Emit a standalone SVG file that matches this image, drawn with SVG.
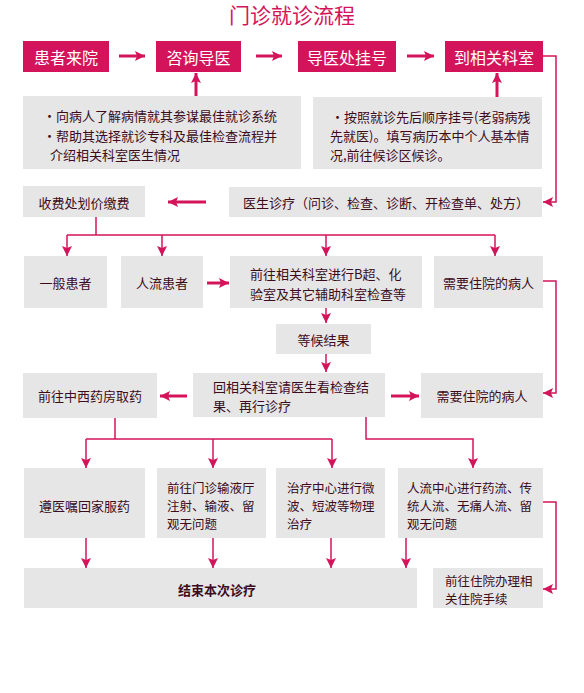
<svg xmlns="http://www.w3.org/2000/svg" width="584" height="693" viewBox="0 0 584 693">
<style>
text{font-family:"Noto Sans CJK SC","Noto Sans",sans-serif;}
.title{font-size:21px;fill:#d4145a;text-anchor:middle;}
.hb{fill:#d4145a;}
.hl{font-size:16px;fill:#fff;text-anchor:middle;dominant-baseline:central;}
.gb{fill:#e6e6e6;}
.t{font-size:13px;fill:#3d0c1c;dominant-baseline:central;}
.s{font-size:12.5px;}
.c{text-anchor:middle;}
.b{font-weight:bold;}
.ln{fill:none;stroke:#d4145a;stroke-width:1.5;}
.ar{fill:none;stroke:#d4145a;stroke-width:1.5;marker-end:url(#ah);}
.tk{fill:none;stroke:#d4145a;stroke-width:3;marker-end:url(#ahk);}
</style>
<defs>
<marker id="ah" viewBox="0 0 10 10" refX="10" refY="5" markerWidth="10" markerHeight="10" markerUnits="userSpaceOnUse" orient="auto"><path d="M0,0 L10,5 L0,10 L2,5 z" fill="#d4145a"/></marker>
<marker id="ahk" viewBox="0 0 10 10" refX="10" refY="5" markerWidth="10" markerHeight="10" markerUnits="userSpaceOnUse" orient="auto"><path d="M0,0 L10,5 L0,10 L2,5 z" fill="#d4145a"/></marker>
</defs>
<rect width="584" height="693" fill="#fff"/>
<text class="title" x="292" y="23">门诊就诊流程</text>

<g id="n1"><rect class="hb" x="23" y="41" width="86" height="31"/><text class="hl" x="66" y="56.5">患者来院</text></g>
<g id="n2"><rect class="hb" x="156" y="41" width="85" height="31"/><text class="hl" x="198.5" y="56.5">咨询导医</text></g>
<g id="n3"><rect class="hb" x="298" y="41" width="98" height="31"/><text class="hl" x="347" y="56.5">导医处挂号</text></g>
<g id="n4"><rect class="hb" x="445" y="41" width="98" height="31"/><text class="hl" x="494" y="56.5">到相关科室</text></g>

<g id="note1"><rect class="gb" x="23" y="96" width="278" height="73"/>
<text class="t" x="43" y="115">•向病人了解病情就其参谋最佳就诊系统</text>
<text class="t" x="43" y="135">•帮助其选择就诊专科及最佳检查流程并</text>
<text class="t" x="50" y="154">介绍相关科室医生情况</text></g>
<g id="note2"><rect class="gb" x="313" y="97" width="229" height="72"/>
<text class="t" x="331" y="116">•按照就诊先后顺序挂号(老弱病残</text>
<text class="t" x="330" y="135">先就医)。填写病历本中个人基本情</text>
<text class="t" x="330" y="154">况,前往候诊区候诊。</text></g>

<g id="n5"><rect class="gb" x="23" y="186" width="122" height="31"/><text class="t c" x="84" y="202">收费处划价缴费</text></g>
<g id="n6"><rect class="gb" x="229" y="187" width="313" height="30"/><text class="t" x="243" y="202">医生诊疗（问诊、检查、诊断、开检查单、处方）</text></g>

<g id="n7"><rect class="gb" x="24" y="256" width="83" height="52"/><text class="t c" x="65.5" y="282">一般患者</text></g>
<g id="n8"><rect class="gb" x="121" y="256" width="82" height="52"/><text class="t c" x="162" y="282">人流患者</text></g>
<g id="n9"><rect class="gb" x="230" y="256" width="192" height="52"/>
<text class="t" x="250" y="273">前往相关科室进行B超、化</text>
<text class="t" x="250" y="293">验室及其它辅助科室检查等</text></g>
<g id="n10"><rect class="gb" x="434" y="256" width="109" height="52"/><text class="t c" x="488.5" y="282">需要住院的病人</text></g>

<g id="n11"><rect class="gb" x="276" y="324" width="95" height="30"/><text class="t c" x="323.5" y="339">等候结果</text></g>

<g id="n12"><rect class="gb" x="23" y="373" width="134" height="45"/><text class="t c" x="90" y="395">前往中西药房取药</text></g>
<g id="n13"><rect class="gb" x="193" y="373" width="192" height="44"/>
<text class="t" x="213" y="386">回相关科室请医生看检查结</text>
<text class="t" x="213" y="405">果、再行诊疗</text></g>
<g id="n14"><rect class="gb" x="421" y="373" width="122" height="45"/><text class="t c" x="482" y="395">需要住院的病人</text></g>

<g id="n15"><rect class="gb" x="24" y="468" width="121" height="70"/><text class="t c" x="84.5" y="505">遵医嘱回家服药</text></g>
<g id="n16"><rect class="gb" x="157" y="468" width="109" height="70"/>
<text class="t s" x="167" y="487">前往门诊输液厅</text>
<text class="t s" x="167" y="505">注射、输液、留</text>
<text class="t s" x="167" y="523">观无问题</text></g>
<g id="n17"><rect class="gb" x="276" y="468" width="109" height="70"/>
<text class="t s" x="287" y="487">治疗中心进行微</text>
<text class="t s" x="287" y="505">波、短波等物理</text>
<text class="t s" x="287" y="523">治疗</text></g>
<g id="n18"><rect class="gb" x="398" y="468" width="145" height="70"/>
<text class="t s" x="407" y="487">人流中心进行药流、传</text>
<text class="t s" x="407" y="505">统人流、无痛人流、留</text>
<text class="t s" x="407" y="523">观无问题</text></g>

<g id="n19"><rect class="gb" x="24" y="568" width="393" height="40"/><text class="t c b" x="217" y="589">结束本次诊疗</text></g>
<g id="n20"><rect class="gb" x="433" y="568" width="110" height="40"/>
<text class="t s" x="445" y="580">前往住院办理相</text>
<text class="t s" x="445" y="598">关住院手续</text></g>

<g id="connectors">
<path class="tk" d="M119,56 H145"/>
<path class="tk" d="M256,56 H282"/>
<path class="tk" d="M407,56 H434"/>
<path class="tk" d="M196,96 V73"/>
<path class="tk" d="M497,97 V73"/>
<path class="ar" d="M543,56 H556 V202 H543"/>
<path class="tk" d="M206,202 H168"/>
<path class="ln" d="M96,217 V235 M67,235 H495"/>
<path class="ar" d="M67,235 V256"/>
<path class="ar" d="M162,235 V256"/>
<path class="ar" d="M326,235 V256"/>
<path class="ar" d="M495,235 V256"/>
<path class="tk" d="M207,283 H229"/>
<path class="ar" d="M543,281 H556 V393 H543"/>
<path class="ar" d="M326,308 V323"/>
<path class="ar" d="M326,354 V372"/>
<path class="tk" d="M187,396 H160"/>
<path class="tk" d="M391,396 H419"/>
<path class="ln" d="M115,418 V439 M86,439 H332"/>
<path class="ar" d="M86,439 V468"/>
<path class="ar" d="M213,439 V468"/>
<path class="ar" d="M332,439 V468"/>
<path class="ar" d="M366,417 V439 H473 V468"/>
<path class="ar" d="M543,502 H556 V589 H543"/>
<path class="ar" d="M86,538 V568"/>
<path class="ar" d="M213,538 V568"/>
<path class="ar" d="M331,538 V568"/>
<path class="ar" d="M406,538 V568"/>
</g>
</svg>
